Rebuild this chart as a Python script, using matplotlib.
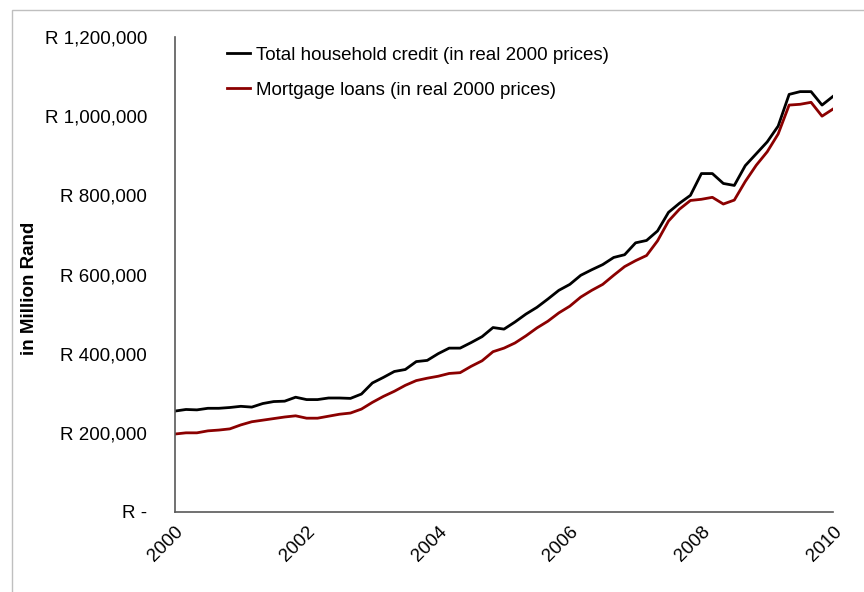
import matplotlib
matplotlib.use("Agg")
import matplotlib.pyplot as plt
import matplotlib.ticker as mticker
from matplotlib.patches import Rectangle
import numpy as np

plt.rcParams['font.family'] = ['Liberation Sans Narrow', 'Liberation Sans', 'DejaVu Sans']

# bi-monthly observations, 2000 to 2010 (61 points)
years = 2000 + np.arange(61) / 6.0

# Total household credit, R million (real 2000 prices)
total_credit = [
    255, 259, 258, 262, 262, 264, 267, 265, 274, 279,
    280, 290, 284, 284, 288, 288, 287, 298, 326, 340,
    355, 360, 380, 383, 400, 414, 414, 428, 443, 466,
    462, 480, 500, 517, 538, 560, 575, 598, 612, 625,
    643, 650, 680, 686, 710, 757, 780, 800, 855, 855,
    830, 825, 875, 905, 935, 975, 1055, 1062, 1062, 1028,
    1050,
]

# Mortgage loans, R million (real 2000 prices)
mortgage_loans = [
    197, 200, 200, 205, 207, 210, 220, 228, 232, 236,
    240, 243, 237, 237, 242, 247, 250, 260, 277, 292,
    305, 320, 332, 338, 343, 350, 352, 368, 382, 405,
    414, 427, 445, 465, 482, 503, 520, 543, 560, 575,
    598, 620, 635, 648, 685, 735, 765, 787, 790, 795,
    778, 788, 835, 876, 910, 955, 1028, 1030, 1035, 1000,
    1018,
]

total_credit = np.array(total_credit) * 1000
mortgage_loans = np.array(mortgage_loans) * 1000

x_ticks = [2000, 2002, 2004, 2006, 2008, 2010]
y_ticks = [0, 200000, 400000, 600000, 800000, 1000000, 1200000]


def rand_fmt(v, pos):
    if v == 0:
        return "R -"
    return "R {:,.0f}".format(v)


fig = plt.figure(figsize=(8.64, 5.92), dpi=100)
ax = fig.add_axes([175 / 864, 1 - 512 / 592, (833 - 175) / 864, (512 - 37) / 592])

# outer chart-area border (cut at right and bottom edges)
fig.patches.append(Rectangle((12 / 864, -0.1), 1.2, 1 - 10 / 592 + 0.1,
                             transform=fig.transFigure, fill=False,
                             edgecolor="#BFBFBF", linewidth=1.0))

ax.plot(years, total_credit, color="black", lw=2.0,
        label="Total household credit (in real 2000 prices)")
ax.plot(years, mortgage_loans, color="#8B0000", lw=2.0,
        label="Mortgage loans (in real 2000 prices)")

ax.set_xlim(2000, 2010)
ax.set_ylim(0, 1200000)
ax.set_xticks(x_ticks)
ax.set_yticks(y_ticks)
ax.yaxis.set_major_formatter(mticker.FuncFormatter(rand_fmt))
ax.tick_params(axis="y", length=0, labelsize=13.5, pad=20)
ax.tick_params(axis="x", length=0, labelsize=13.5, pad=8)
for lab in ax.get_xticklabels():
    lab.set_rotation(45)
    lab.set_ha("right")
    lab.set_rotation_mode("anchor")

for s in ("top", "right"):
    ax.spines[s].set_visible(False)
for s in ("left", "bottom"):
    ax.spines[s].set_color("#595959")
    ax.spines[s].set_linewidth(1.2)

ax.set_ylabel("in Million Rand", fontsize=13.5, fontweight="bold")
ax.yaxis.set_label_coords(-0.208, 0.47)

ax.legend(loc="upper left", bbox_to_anchor=(0.068, 0.995), frameon=False,
          fontsize=13.5, handlelength=1.2, handletextpad=0.35,
          labelspacing=0.95, borderaxespad=0.0)

fig.savefig("out.png", dpi=100)
